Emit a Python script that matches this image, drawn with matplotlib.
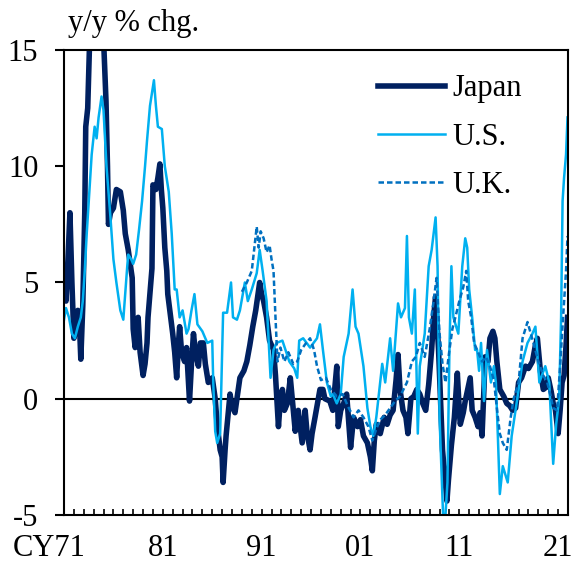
import matplotlib
matplotlib.use('Agg')
import matplotlib.pyplot as plt
import matplotlib.transforms as mtransforms

plt.rcParams['font.family'] = ['Liberation Serif', 'DejaVu Serif']
plt.rcParams['axes.unicode_minus'] = False

# ---- data (year, y/y % chg.) ----
jp_t = [1971.0, 1971.2, 1971.4, 1971.6, 1971.8, 1972.0, 1972.2, 1972.4, 1972.6, 1972.7,
        1972.9, 1973.1, 1973.2, 1973.4, 1973.6, 1973.8, 1974.1, 1974.5, 1974.8, 1975.0,
        1975.25, 1975.4, 1975.5, 1975.7, 1976.0, 1976.3, 1976.7, 1977.0, 1977.2, 1977.5,
        1977.9, 1978.0, 1978.2, 1978.4, 1978.5, 1978.7, 1979.0, 1979.2, 1979.4, 1979.5,
        1979.9, 1980.0, 1980.3, 1980.5, 1980.7, 1980.85, 1981.0, 1981.2, 1981.4, 1981.5,
        1981.8, 1982.0, 1982.2, 1982.4, 1982.6, 1982.7, 1982.9, 1983.2, 1983.4, 1983.7,
        1983.9, 1984.1, 1984.3, 1984.6, 1984.8, 1985.1, 1985.3, 1985.6, 1986.0, 1986.3,
        1986.5, 1986.8, 1987.0, 1987.1, 1987.3, 1987.4, 1987.8, 1988.0, 1988.3, 1988.6,
        1988.8, 1989.2, 1989.5, 1989.8, 1990.1, 1990.4, 1990.8, 1991.0, 1991.2, 1991.5,
        1991.8, 1992.2, 1992.4, 1992.7, 1992.9, 1993.1, 1993.3, 1993.6, 1993.9, 1994.1,
        1994.4, 1994.7, 1995.1, 1995.4, 1995.6, 1995.9, 1996.1, 1996.4, 1996.9, 1997.2,
        1997.4, 1997.9, 1998.2, 1998.6, 1998.75, 1999.0, 1999.3, 1999.6, 2000.0, 2000.3,
        2000.7, 2001.0, 2001.3, 2001.7, 2002.0, 2002.2, 2002.4, 2002.6, 2003.0, 2003.4,
        2003.7, 2004.0, 2004.3, 2004.6, 2004.8, 2005.0, 2005.3, 2005.6, 2005.8, 2006.1,
        2006.4, 2006.7, 2007.0, 2007.3, 2007.6, 2007.9, 2008.2, 2008.4, 2008.6, 2008.75,
        2008.9, 2009.1, 2009.3, 2009.5, 2009.75, 2009.9, 2010.2, 2010.5, 2010.8, 2011.0,
        2011.1, 2011.4, 2011.6, 2012.1, 2012.3, 2012.6, 2012.9, 2013.1, 2013.3, 2013.5,
        2013.6, 2013.9, 2014.1, 2014.4, 2014.6, 2014.8, 2015.1, 2015.5, 2015.8, 2016.1,
        2016.4, 2016.7, 2017.0, 2017.3, 2017.7, 2018.0, 2018.4, 2018.7, 2018.9, 2019.2,
        2019.5, 2019.8, 2020.0, 2020.3, 2020.5, 2020.7, 2021.0, 2021.2, 2021.4, 2021.6,
        2021.8, 2021.95]
jp_v = [5.0, 4.2, 6.0, 8.0, 5.0, 2.6, 3.0, 3.8, 2.8, 1.7,
        4.0, 8.0, 11.7, 12.5, 15.5, 20.0, 25.0, 22.0, 18.0, 15.5,
        12.8, 10.0, 7.5, 8.0, 8.2, 9.0, 8.9, 8.1, 7.1, 6.4,
        5.2, 3.0, 2.2, 2.8, 3.5, 2.0, 1.0, 1.5, 2.4, 3.5,
        5.6, 9.2, 9.0, 9.5, 10.1, 9.0, 8.2, 6.5, 5.5, 4.5,
        3.5, 2.8, 2.0, 0.9, 2.5, 3.1, 2.0, 1.6, 2.2, -0.1,
        1.5, 2.8, 2.0, 1.4, 2.4, 2.4, 1.5, 0.7, 0.9, 0.0,
        -1.1, -2.2, -2.5, -3.6, -2.2, -1.6, 0.2, -0.3, -0.6, 0.3,
        0.9, 1.2, 1.6, 2.3, 3.1, 3.8, 5.0, 4.5, 4.2, 3.5,
        2.5, 2.1, 1.0, -1.2, 0.0, 0.4, -0.5, -0.2, 0.9, 0.0,
        -1.4, -0.5, -1.9, -0.5, -1.5, -2.2, -1.5, -0.8, 0.4, 0.4,
        0.0, -0.1, -0.5, 1.4, -1.2, -0.5, -0.2, 0.2, -2.1, -0.8,
        -1.2, -0.9, -1.6, -1.9, -2.5, -3.1, -1.8, -1.1, -1.5, -0.8,
        -1.1, -0.7, -0.5, 0.8, 1.9, 0.4, -0.5, -0.8, -1.5, 0.0,
        0.1, 0.4, 0.2, -0.2, -0.5, 0.6, 2.1, 3.5, 4.4, 3.2,
        2.1, 0.0, -2.2, -3.2, -4.4, -3.5, -2.0, -0.8, 1.1, -0.5,
        -1.1, -0.6, -0.1, 0.9, -0.5, -0.8, -1.2, -0.6, -1.6, 0.5,
        1.8, 1.6, 2.6, 2.9, 2.6, 1.6, 0.4, 0.1, -0.2, -0.3,
        -0.5, -0.4, 0.7, 0.9, 1.4, 1.3, 1.6, 2.3, 2.6, 1.2,
        0.4, 0.5, 0.9, 0.3, -0.2, -0.4, -1.5, -0.5, 0.7, 1.0,
        2.3, 3.5]

us_t = [1971.0, 1971.2, 1971.5, 1971.8, 1972.1, 1972.4, 1972.7, 1972.9, 1973.1, 1973.3,
        1973.6, 1973.8, 1974.1, 1974.3, 1974.5, 1974.8, 1975.0, 1975.3, 1975.7, 1976.0,
        1976.3, 1976.7, 1977.0, 1977.4, 1977.5, 1977.8, 1978.0, 1978.3, 1978.6, 1978.9,
        1979.2, 1979.4, 1979.7, 1980.1, 1980.3, 1980.5, 1980.9, 1981.2, 1981.6, 1981.9,
        1982.2, 1982.4, 1982.7, 1983.0, 1983.4, 1983.6, 1983.9, 1984.2, 1984.5, 1985.0,
        1985.5, 1986.0, 1986.1, 1986.3, 1986.5, 1986.8, 1987.1, 1987.5, 1987.9, 1988.1,
        1988.5, 1988.8, 1989.3, 1989.6, 1990.0, 1990.5, 1990.8, 1991.1, 1991.5, 1991.9,
        1992.2, 1992.5, 1993.1, 1993.8, 1994.3, 1994.6, 1994.8, 1995.2, 1995.9, 1996.6,
        1996.9, 1997.2, 1997.6, 1998.0, 1998.2, 1998.6, 1999.0, 1999.3, 1999.8, 2000.2,
        2000.5, 2000.8, 2001.3, 2001.7, 2002.0, 2002.3, 2002.6, 2003.2, 2003.5, 2004.0,
        2004.3, 2004.8, 2005.1, 2005.5, 2005.7, 2005.9, 2006.2, 2006.5, 2006.8, 2007.0,
        2007.5, 2007.9, 2008.2, 2008.6, 2008.8, 2009.0, 2009.4, 2009.6, 2009.8, 2010.0,
        2010.2, 2010.4, 2010.9, 2011.3, 2011.6, 2011.8, 2012.0, 2012.3, 2012.6, 2012.8,
        2013.0, 2013.2, 2013.5, 2013.8, 2014.2, 2014.5, 2014.7, 2014.9, 2015.1, 2015.4,
        2015.9, 2016.3, 2016.9, 2017.4, 2017.9, 2018.4, 2018.7, 2019.1, 2019.7, 2020.1,
        2020.5, 2020.8, 2021.1, 2021.3, 2021.45, 2021.6, 2021.8, 2021.95]
us_v = [3.4, 3.9, 3.5, 2.8, 2.6, 3.1, 3.5, 4.2, 5.5, 7.1,
        9.1, 10.5, 11.7, 11.2, 12.1, 13.0, 12.4, 10.0, 7.8, 6.0,
        5.0, 3.8, 3.4, 5.7, 6.2, 6.0, 5.8, 6.2, 7.3, 8.5,
        10.0, 11.1, 12.6, 13.7, 12.6, 11.7, 11.6, 10.0, 8.9, 7.1,
        4.7, 4.7, 3.5, 3.8, 2.8, 3.0, 3.8, 4.5, 3.2, 2.9,
        2.4, 2.5, 0.7, -1.4, -1.9, -1.5, 3.7, 3.7, 5.0, 3.5,
        3.4, 3.8, 5.0, 4.2, 4.7, 5.4, 6.4, 5.5, 4.2, 0.9,
        2.1, 2.4, 2.5, 1.6, 1.3, 0.9, 2.5, 2.6, 2.2, 2.6,
        3.2, 2.1, 0.7, 0.1, 0.2, -0.2, 0.2, 1.8, 2.8, 4.7,
        3.1, 2.8, 1.4, -0.4, -1.2, -1.6, -0.8, 1.5, 0.7, 2.6,
        1.2, 4.1, 3.5, 3.9, 7.0, 3.5, 2.8, 4.7, -1.5, 1.4,
        2.8, 5.7, 6.4, 7.8, 5.7, -0.8, -5.5, -5.0, -3.6, 2.1,
        5.7, 3.5, 2.8, 5.7, 6.9, 6.5, 4.7, 3.5, 2.1, 2.1,
        1.2, 2.4, -0.1, 2.1, 0.7, 1.4, 0.7, -1.6, -4.1, -2.9,
        -3.6, -1.6, 0.1, 1.6, 2.4, 2.8, 3.1, 0.7, 1.4, 0.7,
        -2.8, -1.1, 0.0, 3.5, 8.5, 9.5, 10.5, 12.1]

uk_t = [1989.0, 1989.5, 1990.0, 1990.5, 1990.7, 1990.9, 1991.2, 1991.5, 1991.8, 1992.0,
        1992.2, 1992.4, 1992.6, 1992.9, 1993.3, 1993.7, 1994.2, 1994.6, 1995.0, 1995.5,
        1995.9, 1996.3, 1996.6, 1997.0, 1997.5, 1998.0, 1998.6, 1999.2, 1999.7, 2000.3,
        2000.8, 2001.3, 2001.8, 2002.2, 2002.6, 2003.0, 2003.5, 2004.0, 2004.5, 2005.0,
        2005.7, 2006.2, 2006.6, 2007.0, 2007.5, 2008.0, 2008.4, 2008.7, 2009.0, 2009.3,
        2009.6, 2010.0, 2010.3, 2010.6, 2011.0, 2011.4, 2011.7, 2011.9, 2012.2, 2012.5,
        2012.8, 2013.3, 2013.7, 2014.1, 2014.5, 2014.8, 2015.1, 2015.4, 2015.8, 2016.2,
        2016.5, 2017.0, 2017.4, 2017.9, 2018.5, 2019.0, 2019.5, 2019.9, 2020.2, 2020.5,
        2020.9, 2021.2, 2021.5, 2021.8, 2021.95]
uk_v = [4.6, 5.0, 5.5, 7.4, 6.5, 7.2, 6.9, 6.3, 6.6, 6.0,
        5.5, 3.5, 1.6, 2.2, 1.6, 2.0, 1.5, 1.6, 2.1, 2.4,
        2.6, 2.1, 1.4, 0.8, 0.9, 0.4, 0.1, 0.2, -0.3, -0.8,
        -0.5, -0.8, -1.2, -1.8, -1.3, -0.9, -0.7, -0.4, -0.1, 0.1,
        0.7, 1.6, 1.8, 2.4, 1.8, 3.0, 4.2, 5.2, 2.8, 1.5,
        0.7, 2.1, 3.0, 3.5, 4.2, 4.8, 5.5, 4.2, 3.5, 2.4,
        2.1, 1.6, 1.8, 1.4, 0.8, -0.4, -1.5, -1.9, -2.2, -0.8,
        0.0, 0.7, 2.6, 3.3, 2.4, 1.6, 1.0, 0.7, 0.2, -0.4,
        -0.5, 1.4, 3.5, 5.5, 7.0]

x_labels = ['CY71', '81', '91', '01', '11', '21']
x_label_years = [1971, 1981, 1991, 2001, 2011, 2021]

FS = 22

fig = plt.figure(figsize=(5.73, 5.63), dpi=100)
ax = fig.add_axes([0.1117, 0.0853, 0.8796, 0.8259])

ax.plot(jp_t, jp_v, color='#002060', lw=4.0, label='Japan', solid_joinstyle='round')
ax.plot(us_t, us_v, color='#00B0F0', lw=1.8, label='U.S.')
ax.plot(uk_t, uk_v, color='#0070C0', lw=1.8, ls=(0, (2.2, 1.2)), label='U.K.')
ax.axhline(0, color='black', lw=1.5, zorder=1)

ax.set_xlim(1971, 2022)
ax.set_ylim(-5, 15)
ax.set_yticks([-5, 0, 5, 10, 15])
ax.tick_params(axis='y', direction='out', length=6.5, width=1.5, pad=12, labelsize=FS)
ax.set_xticks(list(range(1972, 2022)))
ax.set_xticklabels([])
ax.tick_params(axis='x', direction='in', length=4, width=1.2)
for s in ax.spines.values():
    s.set_linewidth(1.5)

# year labels under the axis, centred on January of each labelled year
trans = mtransforms.blended_transform_factory(ax.transData, ax.transAxes)
for yr, lab in zip(x_label_years, x_labels):
    if lab.startswith('CY'):
        ax.text(yr + 2.2, -0.072, lab, transform=trans, ha='right', va='center', fontsize=FS)
    else:
        ax.text(yr, -0.072, lab, transform=trans, ha='center', va='center', fontsize=FS)

ax.text(0.008, 1.058, 'y/y % chg.', transform=ax.transAxes, ha='left', va='center', fontsize=FS)

ax.legend(loc='upper left', bbox_to_anchor=(0.599, 0.974), frameon=False, fontsize=FS,
          handlelength=2.2, handletextpad=0.23, labelspacing=0.63, borderaxespad=0)

fig.savefig('out.png', dpi=100)
